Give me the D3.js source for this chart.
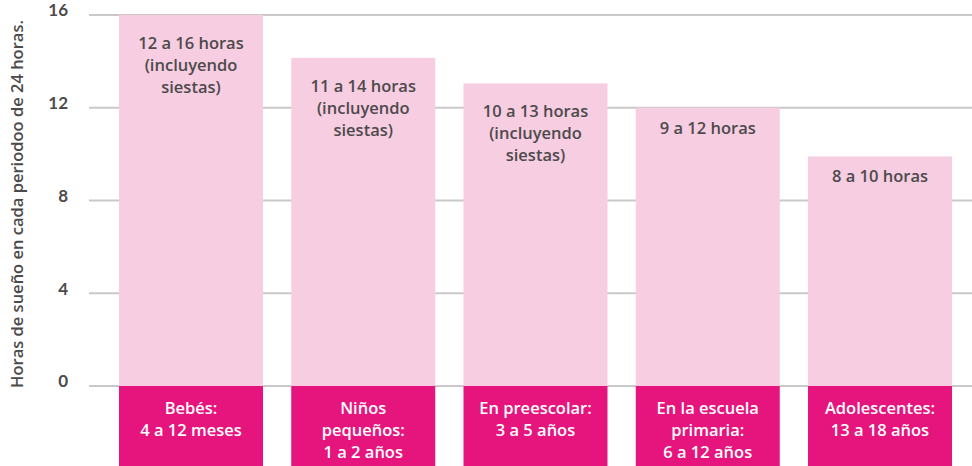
<!DOCTYPE html>
<html>
<head>
<meta charset="utf-8">
<script src="https://cdn.jsdelivr.net/npm/d3@7"></script>
<style>
  body { margin: 0; background: #fff; }
  svg { display: block; font-family: "Open Sans", Lato, sans-serif; }
</style>
</head>
<body>
<svg id="chart" width="972" height="466"></svg>
<script>
// data
var groups = [
  ['Bebés:', '4 a 12 meses'],
  ['Niños', 'pequeños:', '1 a 2 años'],
  ['En preescolar:', '3 a 5 años'],
  ['En la escuela', 'primaria:', '6 a 12 años'],
  ['Adolescentes:', '13 a 18 años']
];
var hours = [16, 14.15, 13.05, 12, 9.9];
var hourLabels = [
  ['12 a 16 horas', '(incluyendo', 'siestas)'],
  ['11 a 14 horas', '(incluyendo', 'siestas)'],
  ['10 a 13 horas', '(incluyendo', 'siestas)'],
  ['9 a 12 horas'],
  ['8 a 10 horas']
];
var yTicks = [0, 4, 8, 12, 16];
var yTitle = 'Horas de sueño en cada periodoo de 24 horas.';

var svg = d3.select('#chart');
var W = 972, H = 466;

var x = d3.scaleBand()
  .domain(d3.range(groups.length))
  .range([119, 952])
  .paddingInner(0.164)
  .paddingOuter(0);

var y = d3.scaleLinear()
  .domain([0, 16])
  .range([386, 15]);

// gridlines
var grid = svg.append('g').attr('class', 'grid');
grid.selectAll('line').data(yTicks).enter().append('line')
  .attr('x1', 89)
  .attr('x2', W)
  .attr('y1', function(d) { return y(d); })
  .attr('y2', function(d) { return y(d); })
  .attr('stroke', '#cbc8ca')
  .attr('stroke-width', 2);

// tick labels
var yAxis = d3.axisLeft(y).tickValues(yTicks).tickSize(0).tickPadding(0);
var ax = svg.append('g')
  .attr('class', 'y_axis')
  .attr('transform', 'translate(68,0)')
  .call(yAxis);
ax.select('.domain').remove();
ax.selectAll('text')
  .attr('dy', '0.05em')
  .style('font-size', '17px')
  .style('font-weight', 'bold')
  .style('font-family', 'Lato, sans-serif')
  .attr('fill', '#4d4a4c');

// axis title
svg.append('text')
  .attr('transform', 'translate(23,' + ((22 + 386) / 2) + ') rotate(-90)')
  .attr('text-anchor', 'middle')
  .style('font-size', '16.5px')
  .style('font-weight', 600)
  .attr('fill', '#4d4a4c')
  .text(yTitle);

// light pink bars
var bars = svg.append('g').attr('class', 'cols');
bars.selectAll('rect').data(hours).enter().append('rect')
  .attr('x', function(d, i) { return x(i); })
  .attr('y', function(d) { return y(d); })
  .attr('width', x.bandwidth())
  .attr('height', function(d) { return y(0) - y(d); })
  .attr('fill', '#f7cde1');

// dark pink label boxes under the zero line
var boxes = svg.append('g').attr('class', 'boxes');
boxes.selectAll('rect').data(groups).enter().append('rect')
  .attr('x', function(d, i) { return x(i); })
  .attr('y', y(0))
  .attr('width', x.bandwidth())
  .attr('height', H - y(0))
  .attr('fill', '#e6157e');

// hour labels inside bars
var lh = 22;
var hl = svg.append('g').attr('class', 'labels');
hourLabels.forEach(function(lines, i) {
  var t = hl.append('text')
    .attr('x', x(i) + x.bandwidth() / 2)
    .attr('y', y(hours[i]) + (lines.length > 1 ? 28 : 20))
    .attr('text-anchor', 'middle')
    .style('font-size', '16.5px')
    .style('font-weight', 600)
    .attr('fill', '#4d4a4c');
  t.selectAll('tspan').data(lines).enter().append('tspan')
    .attr('x', x(i) + x.bandwidth() / 2)
    .attr('dy', function(d, j) { return j === 0 ? '0.35em' : lh; })
    .text(function(d) { return d; });
});

// group labels in dark boxes
var gl = svg.append('g').attr('class', 'groups');
groups.forEach(function(lines, i) {
  var t = gl.append('text')
    .attr('x', x(i) + x.bandwidth() / 2)
    .attr('y', y(0) + 22)
    .attr('text-anchor', 'middle')
    .style('font-size', '16.5px')
    .style('font-weight', 600)
    .attr('fill', '#ffffff');
  t.selectAll('tspan').data(lines).enter().append('tspan')
    .attr('x', x(i) + x.bandwidth() / 2)
    .attr('dy', function(d, j) { return j === 0 ? '0.35em' : 22; })
    .text(function(d) { return d; });
});
</script>
</body>
</html>
